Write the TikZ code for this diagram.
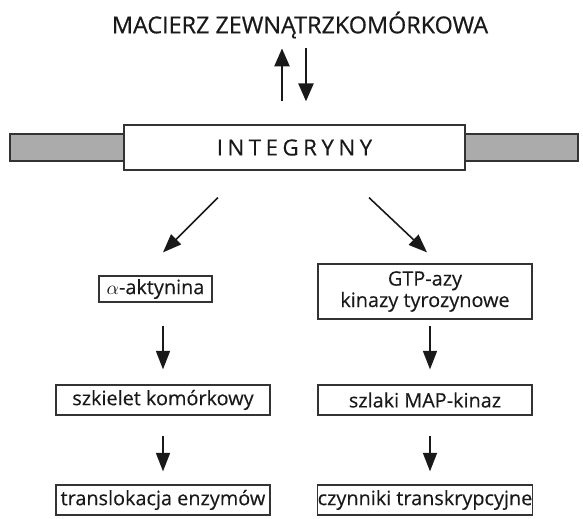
\documentclass[tikz,border=0pt]{standalone}
\usepackage{fontspec}
\setmainfont{Open Sans}[FakeBold=0.25]
\usepackage{tikz}
\usetikzlibrary{arrows.meta,positioning}

\begin{document}
\begin{tikzpicture}[x=0.02cm, y=-0.02cm,
  box/.style={draw=black!80, line width=0.7pt, minimum width=4.28cm, minimum height=0.6cm, align=center, inner sep=0pt, font=\fontsize{11.3}{12.2}\selectfont, text=black!90},
  arrow/.style={-{Triangle[length=0.37cm, width=0.28cm]}, line width=0.9pt, black!90},
  bigarrow/.style={-{Triangle[length=0.36cm, width=0.3cm]}, line width=1.4pt, black!90}
]
\useasboundingbox (0,0) rectangle (583,519);

\node[font=\fontsize{13.3}{14}\selectfont\addfontfeature{FakeBold=0.6}, text=black!90] (ecm) at (300,25) {MACIERZ ZEWNĄTRZKOMÓRKOWA};
\node[draw=black!80, fill=black!33, line width=0.8pt, minimum width=11.36cm, minimum height=0.54cm, inner sep=0pt] (membrane) at (294,147.5) {};
\node[box, fill=white, minimum width=6.82cm, minimum height=0.9cm, font=\fontsize{12.7}{14}\selectfont\addfontfeature{LetterSpace=20}] (integ) at (294.5,147.5) {INTEGRYNY};

\node[box, minimum width=2.26cm, minimum height=0.52cm] (aktynina) at (155.5,289) {$\alpha$-aktynina};
\node[box] (szkielet) at (163,400) {szkielet komórkowy};
\node[box] (transl) at (163,500) {translokacja enzymów};

\node[box, minimum height=1.1cm] (gtp) at (425,291.5) {GTP-azy\\kinazy tyrozynowe};
\node[box] (szlaki) at (425,400) {szlaki MAP-kinaz};
\node[box] (czynniki) at (425,500) {czynniki transkrypcyjne};

% sygnal w obie strony
\draw[bigarrow] ([xshift=-0.25cm, yshift=0.46cm]integ.north) -- ([xshift=-0.25cm, yshift=1.52cm]integ.north);
\draw[bigarrow] ([xshift=0.23cm, yshift=1.52cm]integ.north) -- ([xshift=0.23cm, yshift=0.46cm]integ.north);

\draw[arrow] ([xshift=-1.53cm, yshift=-0.54cm]integ.south) -- ([xshift=0.15cm, yshift=0.46cm]aktynina.north);
\draw[arrow] ([xshift=1.49cm, yshift=-0.54cm]integ.south) -- ([xshift=0.04cm, yshift=0.22cm]gtp.north);

\draw[arrow] ([yshift=-0.46cm]szkielet.north |- aktynina.south) -- ([yshift=0.3cm]szkielet.north);
\draw[arrow] ([yshift=-0.4cm]szkielet.south) -- ([yshift=0.26cm]transl.north);
\draw[arrow] ([xshift=0.1cm, yshift=-0.12cm]gtp.south) -- ([xshift=0.1cm, yshift=0.3cm]szlaki.north);
\draw[arrow] ([xshift=0.1cm, yshift=-0.4cm]szlaki.south) -- ([xshift=0.1cm, yshift=0.26cm]czynniki.north);
\end{tikzpicture}
\end{document}
